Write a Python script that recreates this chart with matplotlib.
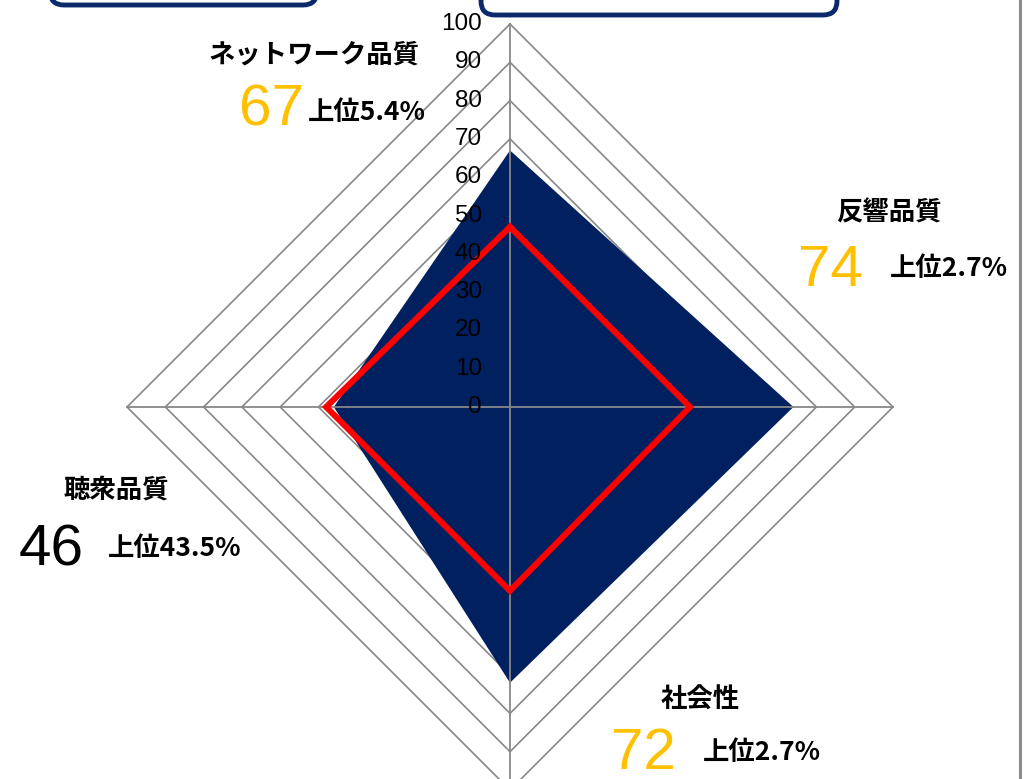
import numpy as np
import matplotlib.pyplot as plt
from matplotlib.patches import FancyBboxPatch
from matplotlib.lines import Line2D
from matplotlib.transforms import IdentityTransform

plt.rcParams['font.family'] = ['Noto Sans CJK JP', 'DejaVu Sans']

# data (top, right, bottom, left)
categories = ['ネットワーク品質', '反響品質', '社会性', '聴衆品質']
scores = [67, 74, 72, 46]
average = [47, 47, 48, 48]
ranks = ['上位5.4%', '上位2.7%', '上位2.7%', '上位43.5%']
ticks = list(range(0, 101, 10))

score_colors = ['#FFC000', '#FFC000', '#FFC000', '#000000']
angles = np.deg2rad([90, 0, -90, 180])
dx = np.round(np.cos(angles), 6)
dy = np.round(np.sin(angles), 6)


def corners(vals):
    v = np.asarray(vals, dtype=float)
    xs = np.append(v * dx, v[0] * dx[0])
    ys = np.append(v * dy, v[0] * dy[0])
    return xs, ys


W, H = 1032, 779
cx, cy, scale = 510, 407, 3.83   # centre in px, px per unit

fig = plt.figure(figsize=(W / 100, H / 100), dpi=100)
ax = fig.add_axes([0, 0, 1, 1])
ax.set_xlim(-cx / scale, (W - cx) / scale)
ax.set_ylim(-(H - cy) / scale, cy / scale)
ax.axis('off')

grey = '#888888'
for t in ticks[1:]:
    ax.plot(*corners([t] * 4), color=grey, lw=1.2, zorder=1)

ax.fill(*corners(scores), color='#002060', lw=0, zorder=2)

for i in range(4):
    ax.plot([0, 100 * dx[i]], [0, 100 * dy[i]], color=grey, lw=1.3, zorder=3)

ax.plot(*corners(average), color='#FF0000', lw=4.4, zorder=4,
        solid_joinstyle='miter')

for t in ticks:
    ax.text(-7.3, t, str(t), ha='right', va='center', fontsize=17.5,
            family='Liberation Sans', zorder=5)


def px(x, y):
    return x / W, 1 - y / H


cat_pos = [(314, 55), (889, 213), (700, 700), (116, 490)]
score_pos = [(272, 110), (830, 271), (643, 754), (51, 550)]
rank_pos = [(308, 112), (890, 268), (703, 753), (108, 548)]

for i in range(4):
    fig.text(*px(*cat_pos[i]), categories[i], ha='center', va='center',
             fontsize=19, fontweight='bold')
    fig.text(*px(*score_pos[i]), str(scores[i]), ha='center', va='center',
             fontsize=42, family='Liberation Sans', color=score_colors[i])
    fig.text(*px(*rank_pos[i]), ranks[i], ha='left', va='center',
             fontsize=19, fontweight='bold')

# boxes cut off at the top edge
for x0, x1, yb in [(50, 317, 5), (481, 837, 15)]:
    box = FancyBboxPatch((x0, H - yb), x1 - x0, 80,
                         boxstyle='round,pad=0,rounding_size=14',
                         transform=IdentityTransform(), facecolor='white',
                         edgecolor='#0b2a6b', lw=3.5)
    fig.add_artist(box)

fig.add_artist(Line2D([1020 / W] * 2, [0, 1], transform=fig.transFigure,
                      color='#8c8c8c', lw=2.2))

fig.savefig('out.png', dpi=100)
